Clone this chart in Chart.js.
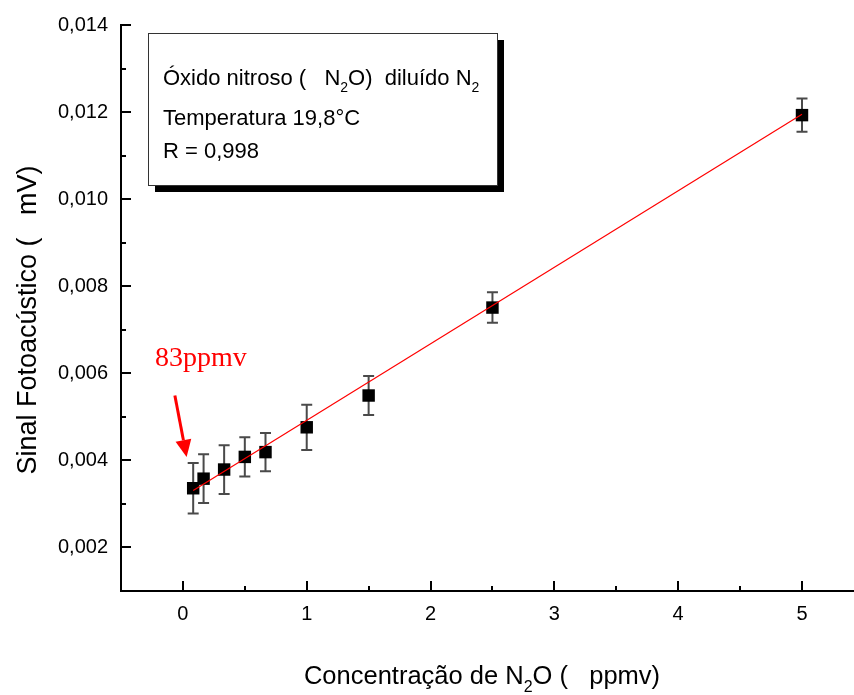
<!DOCTYPE html>
<html>
<head>
<meta charset="utf-8">
<script src="https://cdn.jsdelivr.net/npm/chart.js@4.4.1/dist/chart.umd.min.js"></script>
<style>
  html, body { margin: 0; padding: 0; background: #ffffff; }
  #wrap { width: 854px; height: 695px; }
</style>
</head>
<body>
<div id="wrap"><canvas id="c" width="854" height="695"></canvas></div>
<script>
// N2O concentration (ppmv) and photoacoustic signal (mV) with error bars
const concentrations = [0.083, 0.167, 0.333, 0.5, 0.667, 1.0, 1.5, 2.5, 5.0];
const signals        = [0.00336, 0.00358, 0.00379, 0.00408, 0.00419, 0.00476, 0.00549, 0.00751, 0.01193];
const signalErrors   = [0.00058, 0.00056, 0.00056, 0.00045, 0.00044, 0.00052, 0.00045, 0.00035, 0.00038];

// linear fit end points
const fitX = [0.083, 5.0];
const fitY = [0.00331, 0.01195];

// axis ticks
const xTicks = [0, 1, 2, 3, 4, 5];
const xMinorTicks = [0.5, 1.5, 2.5, 3.5, 4.5];
const yTicks = [0.002, 0.004, 0.006, 0.008, 0.010, 0.012, 0.014];
const yMinorTicks = [0.003, 0.005, 0.007, 0.009, 0.011, 0.013];

const SANS = "'Liberation Sans', Arial, sans-serif";
const SERIF = "'Liberation Serif', 'Times New Roman', serif";

// draws a run of text pieces; pieces flagged sub are drawn smaller and lowered
function drawRich(ctx, pieces, x, y, size) {
  let cx = x;
  pieces.forEach(p => {
    const s = p.sub ? Math.round(size * 0.62) : size;
    ctx.font = s + 'px ' + SANS;
    ctx.fillText(p.t, cx, p.sub ? y + size * 0.3 : y);
    cx += ctx.measureText(p.t).width;
  });
  return cx;
}
function richWidth(ctx, pieces, size) {
  let w = 0;
  pieces.forEach(p => {
    const s = p.sub ? Math.round(size * 0.62) : size;
    ctx.font = s + 'px ' + SANS;
    w += ctx.measureText(p.t).width;
  });
  return w;
}

const decor = {
  id: 'decor',
  beforeDatasetsDraw(chart) {
    const { ctx, scales: { x, y } } = chart;
    ctx.save();
    ctx.strokeStyle = '#4a4a4a';
    ctx.lineWidth = 2;
    concentrations.forEach((c, i) => {
      const px = x.getPixelForValue(c);
      const top = y.getPixelForValue(signals[i] + signalErrors[i]);
      const bot = y.getPixelForValue(signals[i] - signalErrors[i]);
      ctx.beginPath();
      ctx.moveTo(px, top); ctx.lineTo(px, bot);
      ctx.moveTo(px - 5.5, top); ctx.lineTo(px + 5.5, top);
      ctx.moveTo(px - 5.5, bot); ctx.lineTo(px + 5.5, bot);
      ctx.stroke();
    });
    ctx.restore();
  },
  afterDraw(chart) {
    const { ctx, chartArea: a, scales: { x, y } } = chart;
    ctx.save();

    // inward tick marks
    ctx.strokeStyle = '#000000';
    ctx.lineWidth = 2;
    ctx.beginPath();
    xTicks.forEach(v => { const p = Math.round(x.getPixelForValue(v)); ctx.moveTo(p, a.bottom); ctx.lineTo(p, a.bottom - 10); });
    xMinorTicks.forEach(v => { const p = Math.round(x.getPixelForValue(v)); ctx.moveTo(p, a.bottom); ctx.lineTo(p, a.bottom - 5); });
    yTicks.forEach(v => { const p = Math.round(y.getPixelForValue(v)); ctx.moveTo(a.left, p); ctx.lineTo(a.left + 10, p); });
    yMinorTicks.forEach(v => { const p = Math.round(y.getPixelForValue(v)); ctx.moveTo(a.left, p); ctx.lineTo(a.left + 5, p); });
    ctx.stroke();

    // information box with drop shadow
    const bx = a.left + 27, by = a.top + 8, bw = 349, bh = 152;
    ctx.fillStyle = '#000000';
    ctx.fillRect(bx + 7, by + 7, bw, bh);
    ctx.fillStyle = '#ffffff';
    ctx.fillRect(bx, by, bw, bh);
    ctx.strokeStyle = '#333333';
    ctx.lineWidth = 1;
    ctx.strokeRect(bx + 0.5, by + 0.5, bw, bh);

    ctx.fillStyle = '#000000';
    ctx.textAlign = 'left';
    ctx.textBaseline = 'alphabetic';
    drawRich(ctx, [
      { t: 'Óxido nitroso (   N' }, { t: '2', sub: true }, { t: 'O)  diluído N' }, { t: '2', sub: true }
    ], bx + 15, by + 52, 22);
    drawRich(ctx, [{ t: 'Temperatura 19,8°C' }], bx + 15, by + 92, 22);
    drawRich(ctx, [{ t: 'R = 0,998' }], bx + 15, by + 125, 22);

    // axis titles
    const xTitle = [{ t: 'Concentração de N' }, { t: '2', sub: true }, { t: 'O (   ppmv)' }];
    const xw = richWidth(ctx, xTitle, 25.5);
    drawRich(ctx, xTitle, 482 - xw / 2, 684, 25.5);

    ctx.save();
    ctx.translate(36, 320);
    ctx.rotate(-Math.PI / 2);
    ctx.textAlign = 'center';
    ctx.font = '27px ' + SANS;
    ctx.fillText('Sinal Fotoacústico (   mV)', 0, 0);
    ctx.restore();

    // arrow pointing at the lowest concentration
    const tipX = x.getPixelForValue(0.03), tipY = y.getPixelForValue(0.00408);
    const tailX = x.getPixelForValue(-0.065), tailY = y.getPixelForValue(0.00549);
    const ang = Math.atan2(tipY - tailY, tipX - tailX);
    const headLen = 17, headHalf = 8;
    const baseX = tipX - headLen * Math.cos(ang), baseY = tipY - headLen * Math.sin(ang);
    ctx.strokeStyle = '#ff0000';
    ctx.fillStyle = '#ff0000';
    ctx.lineWidth = 3;
    ctx.beginPath();
    ctx.moveTo(tailX, tailY); ctx.lineTo(baseX, baseY);
    ctx.stroke();
    ctx.beginPath();
    ctx.moveTo(tipX, tipY);
    ctx.lineTo(baseX + headHalf * Math.sin(ang), baseY - headHalf * Math.cos(ang));
    ctx.lineTo(baseX - headHalf * Math.sin(ang), baseY + headHalf * Math.cos(ang));
    ctx.closePath();
    ctx.fill();

    ctx.font = '28px ' + SERIF;
    ctx.textAlign = 'left';
    ctx.fillText('83ppmv', x.getPixelForValue(-0.226), y.getPixelForValue(0.00616));

    ctx.restore();
  }
};

new Chart(document.getElementById('c'), {
  type: 'scatter',
  data: {
    datasets: [
      {
        type: 'line',
        data: fitX.map((v, i) => ({ x: v, y: fitY[i] })),
        borderColor: '#ff0000',
        borderWidth: 1.2,
        pointRadius: 0,
        fill: false,
        order: 0
      },
      {
        data: concentrations.map((v, i) => ({ x: v, y: signals[i] })),
        pointStyle: 'rect',
        pointRadius: 8.8,
        pointHoverRadius: 8.8,
        backgroundColor: '#000000',
        borderColor: '#000000',
        borderWidth: 0,
        order: 1
      }
    ]
  },
  options: {
    responsive: false,
    animation: false,
    events: [],
    layout: { autoPadding: false, padding: { top: 25, right: 0, left: 0, bottom: 0 } },
    plugins: { legend: { display: false }, tooltip: { enabled: false } },
    scales: {
      x: {
        type: 'linear',
        min: -0.5,
        max: 5.42,
        afterBuildTicks: s => { s.ticks = xTicks.map(v => ({ value: v })); },
        afterFit: s => { s.height = 104; s.paddingLeft = 0; s.paddingRight = 0; },
        grid: { display: false, drawTicks: false },
        border: { display: true, color: '#000000', width: 2 },
        ticks: {
          color: '#000000',
          padding: 11,
          maxRotation: 0,
          font: { family: SANS, size: 20 },
          callback: v => String(v)
        }
      },
      y: {
        type: 'linear',
        min: 0.001,
        max: 0.014,
        afterBuildTicks: s => { s.ticks = yTicks.map(v => ({ value: v })); },
        afterFit: s => { s.width = 121; s.paddingTop = 0; s.paddingBottom = 0; },
        grid: { display: false, drawTicks: false },
        border: { display: true, color: '#000000', width: 2 },
        ticks: {
          color: '#000000',
          padding: 13,
          font: { family: SANS, size: 20 },
          callback: v => v.toFixed(3).replace('.', ',')
        }
      }
    }
  },
  plugins: [decor]
});
</script>
</body>
</html>
